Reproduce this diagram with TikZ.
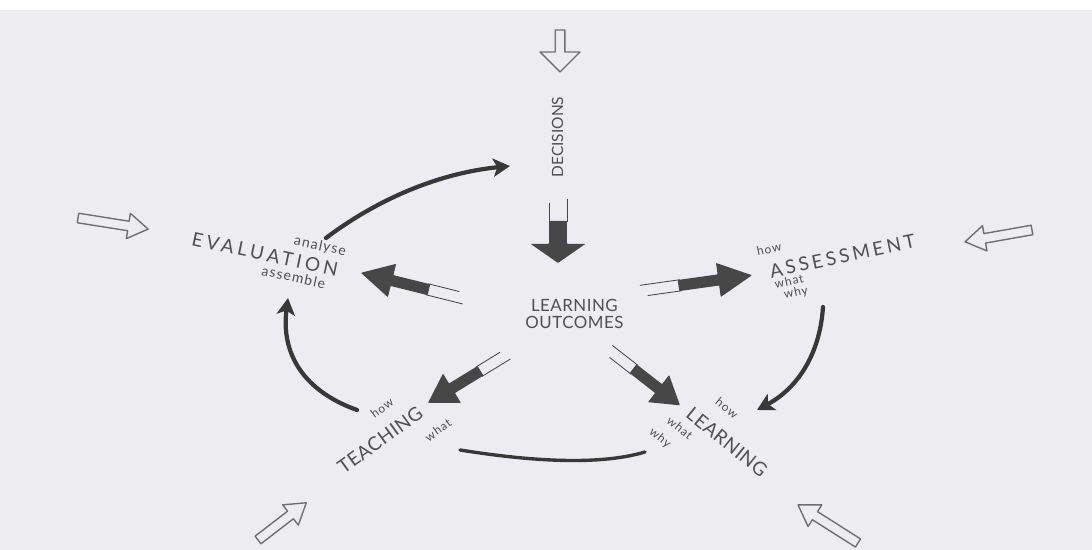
\documentclass[tikz,border=0pt]{standalone}
\usepackage{fontspec}
\setmainfont{Lato}
\usepackage{tikz}
\usetikzlibrary{arrows.meta, positioning}

\definecolor{paper}{HTML}{EDEDF1}
\definecolor{ink}{HTML}{505050}
\definecolor{curveink}{HTML}{383838}
\definecolor{fillink}{HTML}{474747}
\definecolor{outline}{HTML}{707070}

\begin{document}
\begin{tikzpicture}[
    bigword/.style={text=ink, inner sep=0pt, font=\fontsize{13.5}{13.5}\selectfont\addfontfeatures{LetterSpace=#1}},
    smallword/.style={text=ink, inner sep=0pt, font=\fontsize{#1}{#1}\selectfont\addfontfeatures{LetterSpace=8}},
    smallword/.default=8.5,
    loopcurve/.style={draw=curveink, line width=3pt, line cap=round, -{Stealth[length=12pt, width=13pt, inset=3pt]}},
    hollow/.style={draw=outline, line width=1pt, line join=round},
    tailline/.style={draw=fillink, line width=0.6pt}
]
    % Paper
    \fill[white] (0,0) rectangle (27.3,13.75);
    \fill[paper] (0,0) rectangle (27.3,13.5);
    \useasboundingbox (0,0) rectangle (27.3,13.75);

    % Labels
    \node[text=ink, inner sep=0pt, font=\fontsize{11}{11}\selectfont, rotate=90] (decisions) at (13.94,10.325) {DECISIONS};
    \node[text=ink, inner sep=0pt, align=center, font=\fontsize{12}{11.5}\selectfont\addfontfeatures{LetterSpace=3}] (outcomes) at (14.36,5.9) {LEARNING\\OUTCOMES};

    \node[bigword=19, rotate=-12] (evaluation) at (6.625,7.4) {EVALUATION};
    \node[smallword=10, rotate=-12] (analyse) at (8.0,7.59) {analyse};
    \node[smallword=10, rotate=-12] (assemble) at (7.34,6.825) {assemble};

    \node[bigword=17, rotate=12] (assessment) at (21.06,7.35) {ASSESSMENT};
    \node[smallword, rotate=12] (ahow) at (19.225,7.525) {how};
    \node[smallword, rotate=12] (awhat) at (19.725,6.725) {what};
    \node[smallword, rotate=12] (awhy) at (19.9,6.425) {why};

    \node[bigword=3, rotate=36] (teaching) at (9.5,2.75) {TEACHING};
    \node[smallword, rotate=36] (thow) at (9.55,3.55) {how};
    \node[smallword, rotate=36] (twhat) at (10.95,3.0) {what};

    \node[bigword=3, rotate=-39] (learning) at (18.175,2.7) {LEARNING};
    \node[smallword, rotate=-39] (lhow) at (18.175,3.55) {how};
    \node[smallword, rotate=-39] (lwhat) at (17.0,3.05) {what};
    \node[smallword, rotate=-39] (lwhy) at (16.5,2.8) {why};

    % Cycle
    \coordinate (evalout) at (8.15,7.8);
    \coordinate (decin) at (12.75,9.6);
    \coordinate (assessout) at (20.575,6.075);
    \coordinate (learnin) at (18.925,3.5);
    \coordinate (learnout) at (16.125,2.45);
    \coordinate (teachin) at (11.5,2.5);
    \coordinate (teachout) at (8.925,3.5);
    \coordinate (evalin) at (7.2,6.3);
    \draw[loopcurve] (evalout) .. controls (9.52,8.83) and (11.05,9.43) .. (decin);
    \draw[loopcurve] (assessout) .. controls (20.5,4.91) and (19.95,4.05) .. (learnin);
    \draw[loopcurve, -, line width=2.4pt] (learnout) .. controls (15.125,2.15) and (13.58,2.167) .. (teachin);
    \draw[loopcurve] (teachout) .. controls (7.59,3.975) and (7.02,4.91) .. (evalin);

    % Arrows out of the learning outcomes
    \foreach \x/\y/\a/\sx/\sy in {11.45/6.325/166/1.0/1.0, 16.175/6.5/8/1.06/1.0, 12.575/4.825/211.5/0.88/1.0, 15.325/4.925/-38/0.85/1.0, 13.95/8.675/-90/0.6/1.6}
    {
        \begin{scope}[shift={(\x,\y)}, rotate=\a, xscale=\sx, yscale=\sy]
            \draw[tailline] (-0.15,0.14) -- (0.8,0.14);
            \draw[tailline] (0,-0.14) -- (0.8,-0.14);
            \fill[fillink, rounded corners=0.5pt] (0.75,-0.14) -- (1.7,-0.14) -- (1.7,-0.43) -- (2.5,0) -- (1.7,0.43) -- (1.7,0.14) -- (0.75,0.14) -- cycle;
        \end{scope}
    }

    % Inputs from outside
    \foreach \x/\y/\a/\l/\w in {14.0/13.0/-90/1.05/0.5, 1.95/8.3/-9/1.775/0.32, 25.8/8.0/190/1.7/0.32, 6.45/0.25/37.6/1.525/0.32, 21.45/0.175/147.6/1.775/0.32}
        \draw[hollow, shift={(\x,\y)}, rotate=\a] (0,-0.12) -- ({\l-0.5},-0.12) -- ({\l-0.5},-\w) -- (\l,0) -- ({\l-0.5},\w) -- ({\l-0.5},0.12) -- (0,0.12) -- cycle;
\end{tikzpicture}
\end{document}
